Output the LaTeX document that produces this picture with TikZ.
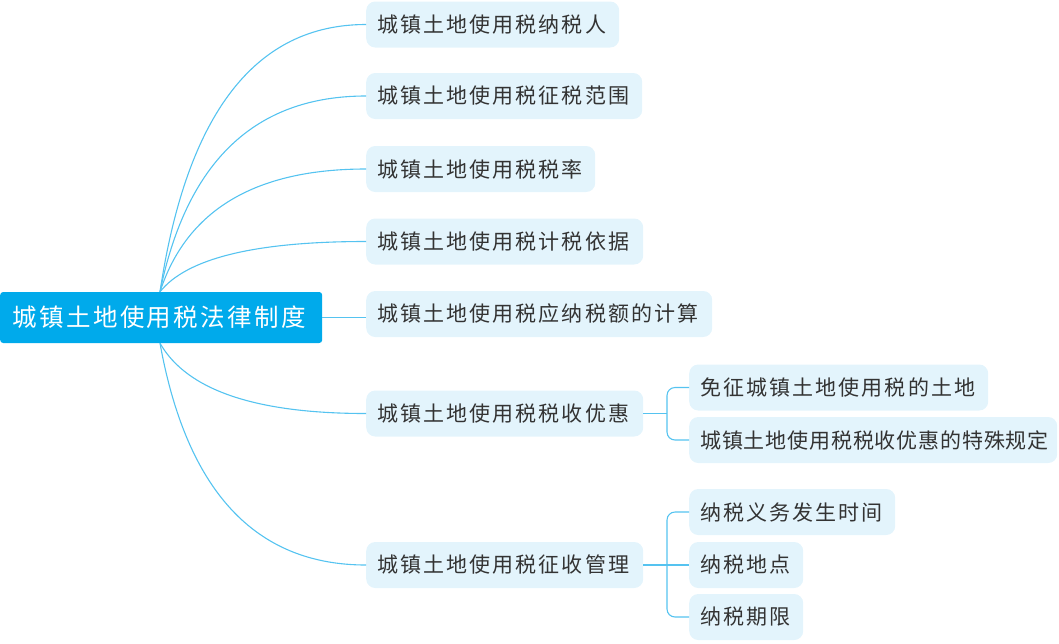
\documentclass[tikz,border=0pt]{standalone}
\usepackage{fontspec}
\usetikzlibrary{calc}
\setmainfont{Noto Sans CJK SC}
\newfontfamily\childfont[LetterSpace=10]{Noto Sans CJK SC}
\newfontfamily\childtight[LetterSpace=4]{Noto Sans CJK SC}
\newfontfamily\rootfont[LetterSpace=10]{Noto Sans CJK SC}
\definecolor{rootblue}{RGB}{0,170,235}
\definecolor{childfill}{RGB}{227,244,252}
\definecolor{linecol}{RGB}{85,195,240}
\definecolor{txt}{RGB}{51,51,51}
\tikzset{
  rootbox/.style={fill=rootblue, text=white, rounded corners=3pt, anchor=west,
    minimum height=51pt, inner xsep=12pt, inner ysep=0pt, align=left,
    font=\rootfont\fontsize{24.5}{28}\selectfont},
  childbox/.style={fill=childfill, text=txt, rounded corners=9pt, anchor=west,
    minimum height=46pt, inner xsep=11pt, inner ysep=0pt, align=left,
    font=\childfont\fontsize{21}{25}\selectfont},
  conn/.style={draw=linecol, line width=1.1pt}
}
\begin{document}
\begin{tikzpicture}[x=1pt,y=-1pt]
\useasboundingbox (0,0) rectangle (1059,643);
\node[rootbox, text width=298pt] (root) at (0,317.5) {城镇土地使用税法律制度};
\node[childbox, text width=231pt] (c1) at (366,24.5) {城镇土地使用税纳税人};
\node[childbox, text width=254pt] (c2) at (366,96) {城镇土地使用税征税范围};
\node[childbox, text width=207pt] (c3) at (366,169) {城镇土地使用税税率};
\node[childbox, text width=255pt] (c4) at (366,241.5) {城镇土地使用税计税依据};
\node[childbox, text width=324pt] (c5) at (366,314) {城镇土地使用税应纳税额的计算};
\node[childbox, text width=255pt] (c6) at (366,413.5) {城镇土地使用税税收优惠};
\node[childbox, text width=255pt] (c7) at (366,565) {城镇土地使用税征收管理};
\node[childbox, text width=277pt] (g1) at (689,387.5) {免征城镇土地使用税的土地};
\node[childbox, text width=346pt, font=\childtight\fontsize{21}{25}\selectfont] (g2) at (689,440) {城镇土地使用税税收优惠的特殊规定};
\node[childbox, text width=184pt] (g3) at (689,512) {纳税义务发生时间};
\node[childbox, text width=92pt] (g4) at (689,565) {纳税地点};
\node[childbox, text width=92pt] (g5) at (689,617) {纳税期限};
\coordinate (rt) at ([xshift=160pt]root.north west);
\coordinate (rb) at ([xshift=160pt]root.south west);
\foreach \s/\c in {rt/c1,rt/c2,rt/c3,rt/c4,rb/c6,rb/c7}{
  \coordinate (q) at ([xshift=-166pt]\c.west);
  \draw[conn] (\s) .. controls ($(\s)!0.667!(q)$) and ($(\c.west)!0.667!(q)$) .. (\c.west);
}
\draw[conn] (root.east) -- (root.east -| c5.west);
\draw[conn] (c6.east) -- ([xshift=-22pt]c6.east -| g1.west);
\draw[conn, rounded corners=8pt] (g1.west) -- ++(-22,0) |- (g2.west);
\draw[conn, rounded corners=8pt] (g3.west) -- ++(-22,0) |- (g5.west);
\draw[conn] (c7.east) -- (g4.west);
\end{tikzpicture}
\end{document}
